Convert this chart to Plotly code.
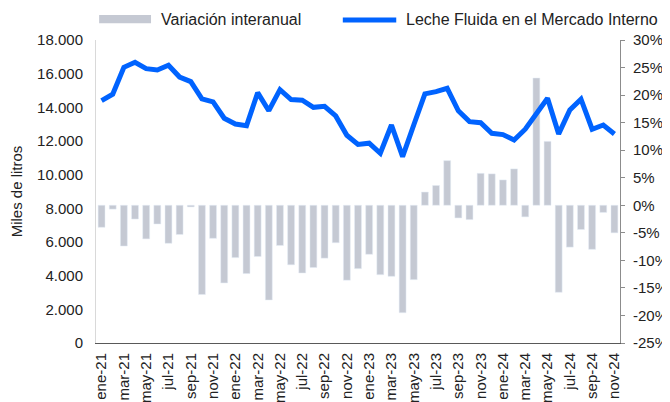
import plotly.graph_objects as go

months = ["ene", "feb", "mar", "abr", "may", "jun", "jul", "ago", "sep", "oct", "nov", "dic"]
periods = [f"{m}-{y}" for y in ["21", "22", "23", "24"] for m in months][:47]

# Leche fluida en el mercado interno (miles de litros)
leche = [
    14400, 14780, 16380, 16680, 16300, 16220, 16500, 15800, 15530, 14500, 14320, 13350,
    13010, 12910, 14870, 13800, 15050, 14460, 14420, 14000, 14060, 13490, 12340, 11800,
    11870, 11270, 12950, 11070, 12950, 14800, 14930, 15130, 13790, 13150, 13090, 12460,
    12380, 12060, 12700, 13590, 14540, 12420, 13840, 14480, 12700, 12950, 12420,
]

# Variación interanual (%)
variacion = [
    -4.0, -0.7, -7.4, -2.5, -6.1, -3.4, -6.9, -5.3, -0.3, -16.2, -6.0, -14.1,
    -9.5, -12.4, -9.3, -17.2, -7.3, -10.8, -12.3, -11.3, -9.6, -6.8, -13.6, -11.5,
    -8.9, -12.6, -12.9, -19.5, -13.5, 2.4, 3.6, 8.1, -2.3, -2.6, 5.8, 5.7,
    4.6, 6.6, -2.1, 23.1, 11.6, -15.8, -7.6, -4.4, -8.0, -1.3, -5.0,
]

pct_vals = list(range(-25, 31, 5))
pct_text = [f"{v}%" for v in pct_vals]

bar_name = "Variación interanual"
line_name = "Leche Fluida en el Mercado Interno"

bar_color = "#c5c9d3"
line_color = "#0063ff"
font_family = "Liberation Sans, Arial, sans-serif"

fig = go.Figure()

# bars go on the primary axis (shown on the right) so the line is drawn on top
fig.add_trace(go.Bar(
    x=periods, y=variacion, marker_color=bar_color, name=bar_name, yaxis="y",
))
fig.add_trace(go.Scatter(
    x=periods, y=leche, mode="lines", line=dict(color=line_color, width=5),
    name=line_name, yaxis="y2",
))

# legend drawn by hand so the swatches are wide like the original
fig.add_shape(type="rect", xref="paper", yref="paper",
              x0=0.006, x1=0.105, y0=1.055, y1=1.0825,
              fillcolor=bar_color, line_width=0)
fig.add_shape(type="line", xref="paper", yref="paper",
              x0=0.471, x1=0.573, y0=1.066, y1=1.066,
              line=dict(color=line_color, width=5))
fig.add_annotation(text=bar_name, xref="paper", yref="paper", x=0.12, y=1.068,
                   xanchor="left", yanchor="middle", showarrow=False, font=dict(size=16))
fig.add_annotation(text=line_name, xref="paper", yref="paper", x=0.587, y=1.068,
                   xanchor="left", yanchor="middle", showarrow=False, font=dict(size=16))

# the page body keeps its default 8px margin, so the figure is sized to fit the window
fig.update_layout(
    width=662, height=394,
    margin=dict(l=88, r=50, t=32, b=59, autoexpand=False),
    paper_bgcolor="white", plot_bgcolor="white",
    font=dict(family=font_family, size=15, color="#222222"),
    separators=",.",
    bargap=0.38,
    showlegend=False,
    xaxis=dict(
        type="category", tickangle=-90, tickvals=periods[::2],
        showgrid=False, showline=True, linecolor="#595959", linewidth=1,
        ticks="", tickfont=dict(size=15), automargin=False, ticklabelstandoff=3,
    ),
    yaxis=dict(
        side="right", range=[-25, 30], tickvals=pct_vals, ticktext=pct_text,
        showgrid=False, zeroline=False, showline=True, linecolor="#8c8c8c",
        ticks="outside", ticklen=4, tickcolor="#8c8c8c", tickfont=dict(size=15),
        automargin=False, ticklabelstandoff=5,
    ),
    yaxis2=dict(
        overlaying="y", side="left", range=[0, 18000], dtick=2000, tickformat=",d",
        showgrid=False, zeroline=False, showline=True, linecolor="#d9d9d9",
        ticks="", tickfont=dict(size=15), automargin=False, ticklabelstandoff=9,
        title=dict(text="Miles de litros", font=dict(size=15), standoff=10),
    ),
)

fig.write_html("out.html")
